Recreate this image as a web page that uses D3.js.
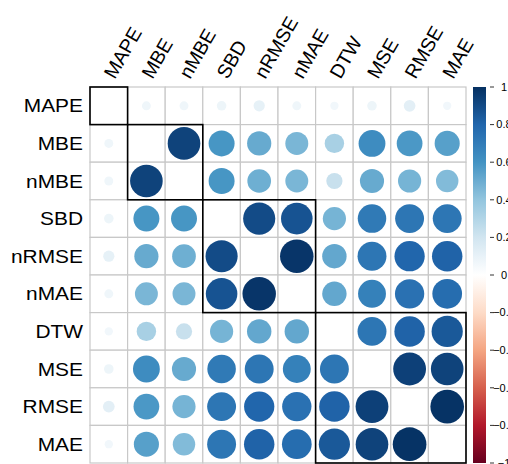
<!DOCTYPE html>
<html>
<head>
<meta charset="utf-8">
<script src="https://cdn.jsdelivr.net/npm/d3@7"></script>
<style>
  html, body { margin: 0; padding: 0; background: #ffffff; }
  svg { display: block; font-family: "Liberation Sans", Arial, sans-serif; }
</style>
</head>
<body>
<svg id="chart" width="508" height="464"></svg>
<script>
// Metric names, in hierarchical-clustering order
const metrics = ["MAPE", "MBE", "nMBE", "SBD", "nRMSE", "nMAE", "DTW", "MSE", "RMSE", "MAE"];

// Correlation rows, one per metric (same order as columns)
const rowMAPE  = [1.00, 0.07, 0.07, 0.08, 0.11, 0.07, 0.06, 0.08, 0.12, 0.06];
const rowMBE   = [0.07, 1.00, 0.93, 0.59, 0.51, 0.46, 0.33, 0.63, 0.58, 0.55];
const rowNMBE  = [0.07, 0.93, 1.00, 0.59, 0.49, 0.46, 0.23, 0.51, 0.47, 0.44];
const rowSBD   = [0.08, 0.59, 0.59, 1.00, 0.90, 0.87, 0.47, 0.71, 0.73, 0.73];
const rowNRMSE = [0.11, 0.51, 0.49, 0.90, 1.00, 0.98, 0.52, 0.73, 0.80, 0.81];
const rowNMAE  = [0.07, 0.46, 0.46, 0.87, 0.98, 1.00, 0.52, 0.68, 0.75, 0.77];
const rowDTW   = [0.06, 0.33, 0.23, 0.47, 0.52, 0.52, 1.00, 0.73, 0.81, 0.85];
const rowMSE   = [0.08, 0.63, 0.51, 0.71, 0.73, 0.68, 0.73, 1.00, 0.94, 0.93];
const rowRMSE  = [0.12, 0.58, 0.47, 0.73, 0.80, 0.75, 0.81, 0.94, 1.00, 0.99];
const rowMAE   = [0.06, 0.55, 0.44, 0.73, 0.81, 0.77, 0.85, 0.93, 0.99, 1.00];

// Sizes of the clusters outlined with rectangles
const clusterSizes = [1, 2, 3, 4];

// Colour legend tick labels
const legendTicks = [1, 0.8, 0.6, 0.4, 0.2, 0, -0.2, -0.4, -0.6, -0.8, -1];

// RdBu diverging palette
const paletteStops = ["#67001F", "#B2182B", "#D6604D", "#F4A582", "#FDDBC7", "#FFFFFF",
                      "#D1E5F0", "#92C5DE", "#4393C3", "#2166AC", "#053061"];

const matrix = [rowMAPE, rowMBE, rowNMBE, rowSBD, rowNRMSE, rowNMAE, rowDTW, rowMSE, rowRMSE, rowMAE];

const svg = d3.select("#chart");

const gridLeft = 90, gridTop = 87, gridSize = 376;
const x = d3.scaleBand().domain(metrics).range([gridLeft, gridLeft + gridSize]);
const y = d3.scaleBand().domain(metrics).range([gridTop, gridTop + gridSize]);
const cell = x.bandwidth();

const color = d3.scaleLinear()
  .domain(d3.range(paletteStops.length).map(i => -1 + 2 * i / (paletteStops.length - 1)))
  .range(paletteStops)
  .interpolate(d3.interpolateRgb);

// circle area proportional to |r|
const radius = d3.scaleSqrt().domain([0, 1]).range([0, cell * 0.45]);

const cells = [];
matrix.forEach((row, i) => row.forEach((v, j) => cells.push({ r: metrics[i], c: metrics[j], v, i, j })));

// cell backgrounds and grid
svg.append("g").selectAll("rect")
  .data(cells)
  .join("rect")
  .attr("x", d => x(d.c))
  .attr("y", d => y(d.r))
  .attr("width", cell)
  .attr("height", cell)
  .attr("fill", "#ffffff")
  .attr("stroke", "#c8c8c8")
  .attr("stroke-width", 1.2);

// correlation circles (diagonal left empty)
svg.append("g").selectAll("circle")
  .data(cells.filter(d => d.i !== d.j))
  .join("circle")
  .attr("cx", d => x(d.c) + cell / 2)
  .attr("cy", d => y(d.r) + cell / 2)
  .attr("r", d => radius(Math.abs(d.v)))
  .attr("fill", d => color(d.v));

// cluster rectangles
let start = 0;
const clusters = clusterSizes.map(n => { const c = { start, n }; start += n; return c; });
svg.append("g").selectAll("rect")
  .data(clusters)
  .join("rect")
  .attr("x", d => x(metrics[d.start]))
  .attr("y", d => y(metrics[d.start]))
  .attr("width", d => d.n * cell)
  .attr("height", d => d.n * cell)
  .attr("fill", "none")
  .attr("stroke", "#000000")
  .attr("stroke-width", 1.6);

// row labels
svg.append("g").selectAll("text")
  .data(metrics)
  .join("text")
  .attr("transform", d => `translate(${gridLeft - 7},${y(d) + cell / 2}) scale(1.1,1)`)
  .attr("dy", "0.35em")
  .attr("text-anchor", "end")
  .attr("font-size", 19)
  .attr("fill", "#000")
  .text(d => d);

// column labels, rotated
svg.append("g").selectAll("text")
  .data(metrics)
  .join("text")
  .attr("transform", d => `translate(${x(d) + cell / 2 + 6},${gridTop - 7}) rotate(-60)`)
  .attr("text-anchor", "start")
  .attr("font-size", 19.5)
  .attr("fill", "#000")
  .text(d => d);

// colour legend
const legendX = 473, legendW = 13;
const ly = d3.scaleLinear().domain([-1, 1]).range([gridTop + gridSize, gridTop]);
const defs = svg.append("defs");
const grad = defs.append("linearGradient")
  .attr("id", "legendGrad")
  .attr("x1", 0).attr("y1", 1).attr("x2", 0).attr("y2", 0);
grad.selectAll("stop")
  .data(d3.range(0, 1.0001, 0.05))
  .join("stop")
  .attr("offset", t => t)
  .attr("stop-color", t => color(-1 + 2 * t));
svg.append("rect")
  .attr("x", legendX)
  .attr("y", gridTop)
  .attr("width", legendW)
  .attr("height", gridSize)
  .attr("fill", "url(#legendGrad)");

const lg = svg.append("g");
lg.selectAll("line")
  .data(legendTicks)
  .join("line")
  .attr("x1", 490).attr("x2", 494)
  .attr("y1", d => ly(d)).attr("y2", d => ly(d))
  .attr("stroke", "#333")
  .attr("stroke-width", 1);
lg.selectAll("text")
  .data(legendTicks)
  .join("text")
  .attr("x", 504)
  .attr("y", d => ly(d))
  .attr("dy", "0.35em")
  .attr("text-anchor", "middle")
  .attr("font-size", 11)
  .attr("fill", "#000")
  .text(d => d < 0 ? "\u2212" + Math.abs(d) : String(d));
</script>
</body>
</html>
